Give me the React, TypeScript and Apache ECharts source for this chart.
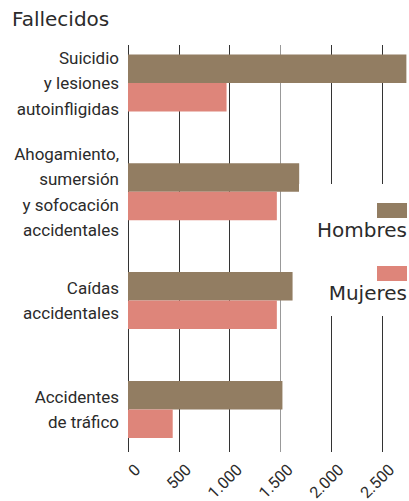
import React, { useEffect, useRef } from "react";
import * as echarts from "echarts";

const categories = [
  "Suicidio\ny lesiones\nautoinfligidas",
  "Ahogamiento,\nsumersión\ny sofocación\naccidentales",
  "Caídas\naccidentales",
  "Accidentes\nde tráfico",
];
const hombres = [2740, 1685, 1620, 1520];
const mujeres = [970, 1465, 1465, 440];
const tickLabels = ["0", "500", "1.000", "1.500", "2.000", "2.500"];
const seriesNames = ["Hombres", "Mujeres"];

const COL_H = "#927d62";
const COL_M = "#de857a";
const TXT = "#2b2b2b";
const NARROW = 'Roboto, "Liberation Sans", sans-serif';
const WIDE = '"DejaVu Sans", sans-serif';

export default function App() {
  const ref = useRef<HTMLDivElement>(null);
  useEffect(() => {
    document.body.style.margin = "0";
    const chart = echarts.init(ref.current as HTMLDivElement, null, { renderer: "svg" });
    chart.setOption({
      animation: false,
      title: {
        text: "Fallecidos",
        left: 12,
        top: 9,
        padding: 0,
        textStyle: { fontFamily: WIDE, fontSize: 20, fontWeight: "normal", color: TXT },
      },
      legend: {
        orient: "vertical",
        right: 2,
        top: 184,
        padding: [19, 0, 13, 12],
        backgroundColor: "#fff",
        itemGap: 26,
        itemWidth: 0,
        itemHeight: 0,
        icon: "none",
        selectedMode: false,
        data: seriesNames,
        formatter: (name: string) => `{${name === "Hombres" ? "h" : "m"}|}\n{t|${name}}`,
        textStyle: {
          rich: {
            h: { width: 30, height: 15, lineHeight: 15, backgroundColor: COL_H, align: "right" },
            m: { width: 30, height: 15, lineHeight: 15, backgroundColor: COL_M, align: "right" },
            t: { fontFamily: WIDE, fontSize: 20, lineHeight: 24, color: TXT, align: "right", width: 91 },
          },
        },
      },
      grid: [
        { left: 128, top: 45, width: 254, height: 407, outerBoundsMode: "none", containLabel: false },
        { left: 128, top: 28.6, width: 279.4, height: 435.2, outerBoundsMode: "none", containLabel: false },
        { left: 137.5, top: 45, width: 254, height: 407, outerBoundsMode: "none", containLabel: false },
      ],
      xAxis: [
        {
          gridIndex: 0,
          type: "value",
          min: 0,
          max: 2500,
          interval: 500,
          axisLine: { show: false },
          axisTick: { show: false },
          axisLabel: { show: false },
          splitLine: {
            show: true,
            lineStyle: { color: ["#333", "#333", "#333", "#999", "#333", "#333"], width: 1 },
          },
        },
        { gridIndex: 1, type: "value", min: 0, max: 2750, show: false },
        {
          gridIndex: 2,
          type: "value",
          min: 0,
          max: 2500,
          interval: 500,
          axisLine: { show: false },
          axisTick: { show: false },
          splitLine: { show: false },
          axisLabel: {
            rotate: 45,
            margin: 15,
            fontFamily: NARROW,
            fontSize: 16,
            color: TXT,
            formatter: (v: number) => tickLabels[Math.round(v / 500)],
          },
        },
      ],
      yAxis: [
        { gridIndex: 0, type: "value", show: false },
        {
          gridIndex: 1,
          type: "category",
          inverse: true,
          data: categories,
          axisLine: { show: false },
          axisTick: { show: false },
          splitLine: { show: false },
          axisLabel: {
            margin: 9,
            fontFamily: NARROW,
            fontSize: 17,
            lineHeight: 25.5,
            color: TXT,
          },
        },
        { gridIndex: 2, type: "value", show: false },
      ],
      series: [
        {
          name: seriesNames[0],
          type: "bar",
          xAxisIndex: 1,
          yAxisIndex: 1,
          data: hombres,
          barWidth: 28.5,
          barGap: "0%",
          itemStyle: { color: COL_H },
        },
        {
          name: seriesNames[1],
          type: "bar",
          xAxisIndex: 1,
          yAxisIndex: 1,
          data: mujeres,
          barWidth: 28.5,
          barGap: "0%",
          itemStyle: { color: COL_M },
        },
      ],
    });
    return () => chart.dispose();
  }, []);
  return <div ref={ref} style={{ width: 409, height: 501 }} />;
}
